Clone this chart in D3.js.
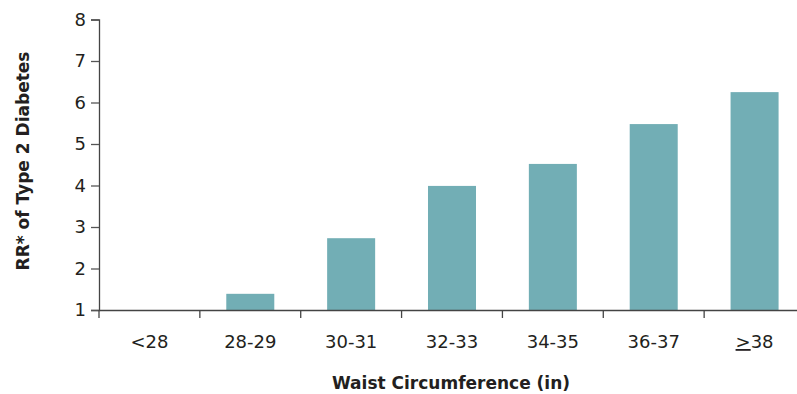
<!DOCTYPE html>
<html>
<head>
<meta charset="utf-8">
<script src="https://cdn.jsdelivr.net/npm/d3@7"></script>
<style>
  html, body { margin: 0; padding: 0; background: #fff; }
  svg text { font-family: "DejaVu Sans", Lato, sans-serif; fill: #231f20; }
</style>
</head>
<body>
<svg id="chart" width="797" height="394"></svg>
<script>
// Relative risk of type 2 diabetes by waist circumference band
const categories = ["<28", "28-29", "30-31", "32-33", "34-35", "36-37", "≥38"];
const relativeRisk = [1.0, 1.39, 2.73, 3.99, 4.52, 5.48, 6.25];
const yTicks = [1, 2, 3, 4, 5, 6, 7, 8];

const svg = d3.select("#chart");
const plotLeft = 99, plotRight = 805, plotTop = 19.5, plotBottom = 310;

const x = d3.scaleBand().domain(categories).range([plotLeft, plotRight]).padding(0);
const y = d3.scaleLinear().domain([1, 8]).range([plotBottom, plotTop]);
const barW = x.bandwidth() * 0.476;

// bars
svg.append("g").selectAll("rect").data(categories).join("rect")
  .attr("x", d => x(d) + (x.bandwidth() - barW) / 2)
  .attr("width", barW)
  .attr("y", (d, i) => y(relativeRisk[i]))
  .attr("height", (d, i) => y(1) - y(relativeRisk[i]))
  .attr("fill", "#72aeb5");

// y axis
const yAxis = svg.append("g").attr("transform", `translate(${plotLeft},0)`)
  .call(d3.axisLeft(y).tickValues(yTicks).tickSize(8).tickPadding(5).tickFormat(d3.format("d")));
yAxis.select(".domain").attr("stroke", "#444").attr("stroke-width", 1.3);
yAxis.selectAll(".tick line").attr("stroke", "#555").attr("stroke-width", 1.3);
yAxis.selectAll(".tick text").attr("font-size", 18).attr("fill", "#231f20");

// x axis: baseline plus tick marks on band boundaries
const xAxis = svg.append("g").attr("transform", `translate(0,${plotBottom})`)
  .call(d3.axisBottom(x).tickSize(0).tickPadding(25));
xAxis.select(".domain").attr("stroke", "#444").attr("stroke-width", 1.3);
xAxis.selectAll(".tick text").attr("font-size", 18).attr("fill", "#231f20")
  .attr("dy", 0)
  .each(function (d) {
    if (d.startsWith("≥")) {
      const t = d3.select(this).text(null);
      t.append("tspan").attr("text-decoration", "underline").text(">");
      t.append("tspan").text(d.slice(1));
    }
  });
xAxis.selectAll(".tick text").attr("y", 38);
xAxis.selectAll(".boundary").data(categories).join("line")
  .attr("class", "boundary")
  .attr("x1", d => x(d)).attr("x2", d => x(d))
  .attr("y1", 0).attr("y2", 8)
  .attr("stroke", "#444").attr("stroke-width", 1.3);

// axis titles
svg.append("text")
  .attr("x", 451).attr("y", 389)
  .attr("text-anchor", "middle")
  .attr("font-size", 17).attr("font-weight", "bold")
  .text("Waist Circumference (in)");

svg.append("text")
  .attr("transform", "translate(29,161) rotate(-90)")
  .attr("text-anchor", "middle")
  .attr("font-size", 17).attr("font-weight", "bold")
  .text("RR* of Type 2 Diabetes");
</script>
</body>
</html>
